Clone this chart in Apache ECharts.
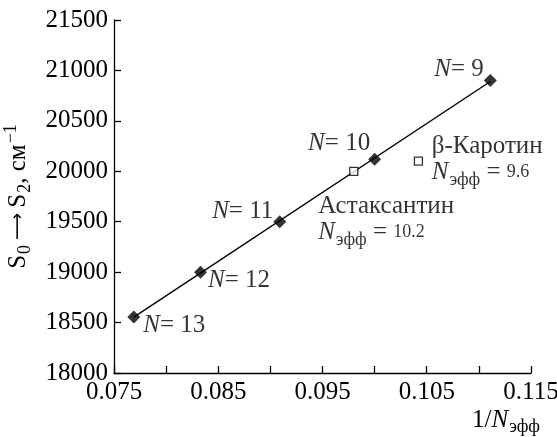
<!DOCTYPE html>
<html><head><meta charset="utf-8">
<script src="https://cdn.jsdelivr.net/npm/echarts@6/dist/echarts.min.js"></script>
<style>html,body{margin:0;padding:0;background:#fff}#c{width:557px;height:437px}</style>
</head><body><div id="c"></div>
<script>
// ---- data ----
const chainN = [9, 10, 11, 12, 13];
const invN = [0.1111, 0.1000, 0.0909, 0.0833, 0.0769];
const energy = [20900, 20120, 19500, 19000, 18555];
const carotenoids = ['Астаксантин', 'β-Каротин'];
const nEff = ['10.2', '9.6'];
const carInvN = [0.0980, 0.1042];
const carEnergy = [20000, 20100];
const xTicks = [0.075, 0.085, 0.095, 0.105, 0.115];

// ---- layout of annotations (not data) ----
const nLabelLayout = [
  {position: 'left', offset: [0, -11]},
  {position: 'left', offset: [2, -16]},
  {position: 'left', offset: [0, -10]},
  {position: 'right', offset: [1, 8]},
  {position: 'right', offset: [3, 8]}
];
const carLabelLayout = [
  {position: [-31, 27]},
  {position: [18, -23]}
];

const FONT = 'Liberation Serif';
const FS = 25;
const rich = {
  t: {fontFamily: FONT, fontSize: FS, color: '#000', lineHeight: 26},
  i: {fontFamily: FONT, fontSize: FS, fontStyle: 'italic', color: '#000', lineHeight: 26},
  arr: {fontFamily: 'DejaVu Sans', fontSize: 19, color: '#000', lineHeight: 26, padding: [0, 5, 0, 5]},
  sub: {fontFamily: FONT, fontSize: 18, color: '#000', lineHeight: 18, padding: [15, 0, 0, 1]},
  sup: {fontFamily: FONT, fontSize: 18, color: '#000', lineHeight: 18, padding: [0, 0, 13, 1]},
  sm: {fontFamily: FONT, fontSize: 18, color: '#000', lineHeight: 26}
};

// least-squares fit line through the polyene points
const n = invN.length;
const mx = invN.reduce((a, b) => a + b, 0) / n;
const my = energy.reduce((a, b) => a + b, 0) / n;
let sxy = 0, sxx = 0;
for (let k = 0; k < n; k++) { sxy += (invN[k] - mx) * (energy[k] - my); sxx += (invN[k] - mx) ** 2; }
const slope = sxy / sxx, icpt = my - slope * mx;
const xMin = Math.min(...invN), xMax = Math.max(...invN);
const fitLine = [[xMin, icpt + slope * xMin], [xMax, icpt + slope * xMax]];

const chart = echarts.init(document.getElementById('c'), null, {renderer: 'canvas'});
chart.setOption({
  backgroundColor: '#fff',
  animation: false,
  textStyle: {fontFamily: FONT},
  grid: {left: 114, right: 26, top: 20, bottom: 64, containLabel: false, outerBoundsMode: 'none'},
  xAxis: {
    type: 'value', min: 0.075, max: 0.115, interval: 0.005,
    axisLine: {lineStyle: {color: '#000', width: 1.3}},
    axisTick: {inside: true, length: 7, lineStyle: {color: '#000', width: 1.3}},
    splitLine: {show: false},
    axisLabel: {
      margin: 6, rich: rich,
      formatter: v => xTicks.some(t => Math.abs(t - v) < 1e-9) ? '{t|' + v.toFixed(3) + '}' : ''
    },
    name: '{t|1/}{i|N}{sub|эфф}',
    nameLocation: 'end', nameGap: 9, nameMoveOverlap: false,
    nameTextStyle: {align: 'right', verticalAlign: 'top', padding: [34, 0, 0, 0], rich: rich}
  },
  yAxis: {
    type: 'value', min: 18000, max: 21500, interval: 500,
    axisLine: {show: true, lineStyle: {color: '#000', width: 1.3}},
    axisTick: {show: true, inside: true, length: 7, lineStyle: {color: '#000', width: 1.3}},
    splitLine: {show: false},
    axisLabel: {margin: 6, rich: rich, formatter: v => '{t|' + String(v) + '}'},
    name: '{t|S}{sub|0}{arr|⟶}{t|S}{sub|2}{t|, см}{sup|−1}',
    nameLocation: 'middle', nameGap: 77, nameRotate: 90,
    nameTextStyle: {rich: rich}
  },
  series: [
    {
      type: 'line', data: fitLine, symbol: 'none', silent: true,
      lineStyle: {color: '#000', width: 1.4}, z: 1
    },
    {
      type: 'scatter', symbol: 'diamond', symbolSize: 13,
      itemStyle: {color: '#000'}, z: 3,
      data: invN.map((x, k) => ({
        value: [x, energy[k]],
        label: Object.assign({show: true, distance: 0, rich: rich,
          formatter: '{i|N}{t|= ' + chainN[k] + '}'}, nLabelLayout[k])
      }))
    },
    {
      type: 'scatter', symbol: 'rect', symbolSize: 8,
      itemStyle: {color: '#fff', borderColor: '#000', borderWidth: 1.3}, z: 3,
      data: carInvN.map((x, k) => ({
        value: [x, carEnergy[k]],
        label: Object.assign({show: true, align: 'left', verticalAlign: 'top', rich: rich,
          formatter: '{t|' + carotenoids[k] + '}\n{i|N}{sub|эфф}{t| = }{sm|' + nEff[k] + '}'}, carLabelLayout[k])
      }))
    }
  ]
});
</script></body></html>
